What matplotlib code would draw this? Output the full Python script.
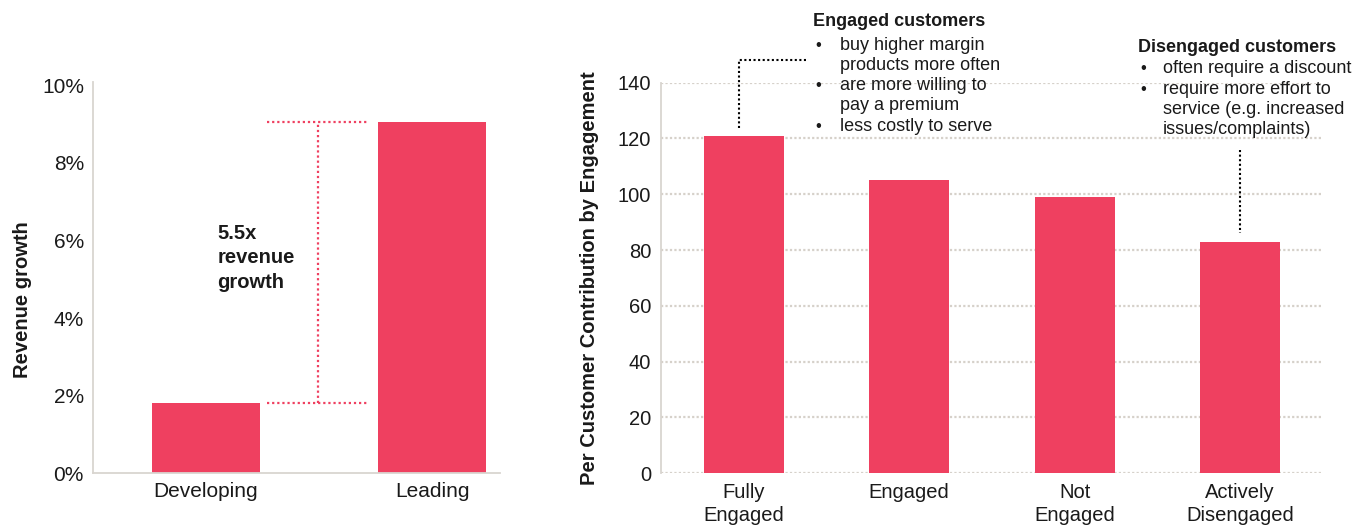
import numpy as np
import matplotlib
matplotlib.use("Agg")
import matplotlib.pyplot as plt
from matplotlib.lines import Line2D
from matplotlib.ticker import FuncFormatter

plt.rcParams['font.family'] = ['Liberation Sans', 'DejaVu Sans']

W, H = 1368, 527
BAR = '#EF4060'
GRID = '#d6d1ca'
SPINE = '#d9d5d0'
TXT = '#1a1a1a'

# revenue growth by maturity (percent)
growth_labels = ['Developing', 'Leading']
growth_values = [1.8, 9.05]

# per-customer contribution by engagement level
engage_labels = ['Fully\nEngaged', 'Engaged', 'Not\nEngaged', 'Actively\nDisengaged']
engage_values = [121, 105, 99, 83]

engaged_title = 'Engaged customers'
engaged_points = [('•', 'buy higher margin'), ('', 'products more often'),
                  ('•', 'are more willing to'), ('', 'pay a premium'),
                  ('•', 'less costly to serve')]
diseng_title = 'Disengaged customers'
diseng_points = [('•', 'often require a discount'), ('•', 'require more effort to'),
                 ('', 'service (e.g. increased'), ('', 'issues/complaints)')]


def px(x, y):
    # pixel position -> figure fraction
    return x / W, 1 - y / H


fig = plt.figure(figsize=(W / 100, H / 100), dpi=100)

# ---- left panel ----
ax1 = fig.add_axes([93 / W, 1 - 473.3 / H, 407 / W, 391.3 / H])
xs = np.arange(len(growth_values))
ax1.bar(xs, growth_values, width=0.48, color=BAR, zorder=2)
ax1.set_xlim(-0.5, 1.3)
ax1.set_ylim(0, 10.08)
ax1.set_yticks(np.arange(0, 11, 2))
ax1.yaxis.set_major_formatter(FuncFormatter(lambda v, p: f'{v:.0f}%'))
ax1.set_xticks(xs)
ax1.set_xticklabels(growth_labels)
ax1.tick_params(length=0, labelsize=15, colors=TXT, pad=6.5)
for s in ['top', 'right']:
    ax1.spines[s].set_visible(False)
for s in ['left', 'bottom']:
    ax1.spines[s].set_color(SPINE)
    ax1.spines[s].set_linewidth(1.3)
ax1.set_ylabel('Revenue growth', fontsize=14.5, fontweight='bold', color=TXT)
ax1.yaxis.set_label_coords(-0.15, 0.445)

# bracket between the two bars
lo, hi = growth_values
dot = (0, (1, 1.3))
ax1.plot([0.27, 0.72], [hi, hi], color=BAR, lw=1.6, ls=dot)
ax1.plot([0.27, 0.72], [lo, lo], color=BAR, lw=1.6, ls=dot)
ax1.plot([0.495, 0.495], [lo, hi], color=BAR, lw=1.6, ls=dot)
ax1.text(0.05, 5.55, '5.5x\nrevenue\ngrowth', fontsize=14.5, fontweight='bold',
         color=TXT, ha='left', va='center', linespacing=1.35)

# ---- right panel ----
ax2 = fig.add_axes([661 / W, 1 - 473.3 / H, 662 / W, 390.6 / H])
xs2 = np.arange(len(engage_values))
ax2.bar(xs2, engage_values, width=0.485, color=BAR, zorder=2)
ax2.set_xlim(-0.5, 3.5)
ax2.set_ylim(0, 140)
ax2.set_yticks(np.arange(0, 141, 20))
ax2.set_xticks(xs2)
ax2.set_xticklabels(engage_labels, linespacing=1.25)
ax2.tick_params(length=0, labelsize=14.5, colors=TXT, pad=7)
ax2.grid(axis='y', color=GRID, lw=1.6, ls=(0, (1, 1)), zorder=0)
ax2.grid(axis='x', visible=False)
for s in ['top', 'right', 'bottom']:
    ax2.spines[s].set_visible(False)
ax2.spines['left'].set_color(SPINE)
ax2.spines['left'].set_linewidth(1.3)
ax2.set_ylabel('Per Customer Contribution by Engagement', fontsize=14.5,
               fontweight='bold', color=TXT)
ax2.yaxis.set_label_coords(-0.094, 0.5)

# callout text blocks
fig.text(*px(813, 22), engaged_title, fontsize=13, fontweight='bold',
         color=TXT, ha='left', va='center')
for i, (b, t) in enumerate(engaged_points):
    y = 45 + i * 20.3
    if b:
        fig.text(*px(815, y), b, fontsize=12, color=TXT, ha='left', va='center')
    fig.text(*px(840, y), t, fontsize=13, color=TXT, ha='left', va='center')

fig.text(*px(1138, 48), diseng_title, fontsize=13, fontweight='bold',
         color=TXT, ha='left', va='center')
for i, (b, t) in enumerate(diseng_points):
    y = 69 + i * 20.3
    if b:
        fig.text(*px(1140, y), b, fontsize=12, color=TXT, ha='left', va='center')
    fig.text(*px(1163, y), t, fontsize=13, color=TXT, ha='left', va='center')

# dotted leader lines
lead = dict(color='black', lw=1.5, ls=(0, (1, 1.2)))
fig.add_artist(Line2D(*zip(px(739, 128), px(739, 60), px(808, 60)), **lead))
fig.add_artist(Line2D(*zip(px(1240, 150), px(1240, 233)), **lead))

fig.savefig('out.png', dpi=100)
